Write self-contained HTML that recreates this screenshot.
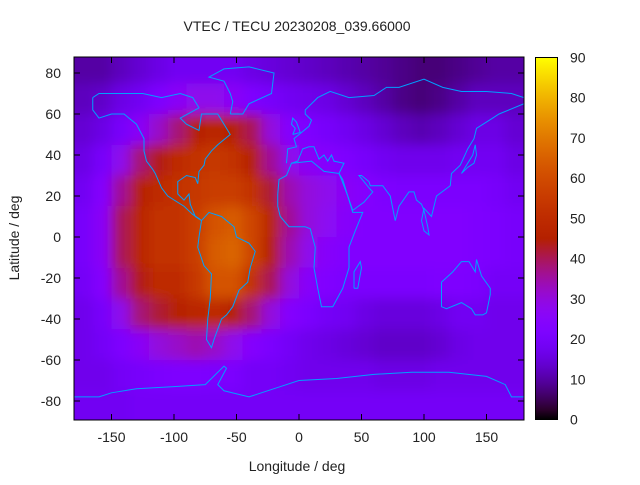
<!DOCTYPE html>
<html><head><meta charset="utf-8"><style>
body{margin:0;background:#fff;}
svg text{font-family:"Liberation Sans",sans-serif;font-size:14px;fill:#222;}
</style></head><body>
<svg id="chart" width="640" height="480" xmlns="http://www.w3.org/2000/svg">
<defs>
<clipPath id="pc"><rect x="74" y="57" width="450" height="363"/></clipPath>
<filter id="bl" filterUnits="userSpaceOnUse" x="0" y="0" width="640" height="480"><feGaussianBlur stdDeviation="6"/></filter>
<linearGradient id="cbg" x1="0" y1="1" x2="0" y2="0"></linearGradient>
</defs>
<text x="297" y="31" text-anchor="middle">VTEC / TECU 20230208_039.66000</text>
<g clip-path="url(#pc)"><g id="cells" filter="url(#bl)"></g></g>
<g id="coast" clip-path="url(#pc)"></g>
<rect x="74" y="57" width="450" height="363" fill="none" stroke="#000" stroke-width="1"/>
<g id="axes"></g>
<rect x="535.5" y="57.5" width="22" height="362" fill="url(#cbg)" stroke="#000"/>
<text x="297" y="471" text-anchor="middle">Longitude / deg</text>
<text transform="translate(19,238) rotate(-90)" text-anchor="middle">Latitude / deg</text>
</svg>
<script>
const lons=[-172.5,-157.5,-142.5,-127.5,-112.5,-97.5,-82.5,-67.5,-52.5,-37.5,-22.5,-7.5,7.5,22.5,37.5,52.5,67.5,82.5,97.5,112.5,127.5,142.5,157.5,172.5];
const lats=[82.5,67.5,52.5,37.5,22.5,7.5,-7.5,-22.5,-37.5,-52.5,-67.5,-82.5];
const r0=[10,10,12,14,16,18,18,18,18,16,15,14,13,12,11,10,9,8,7,7,8,9,10,10];
const r1=[12,13,16,18,22,26,28,28,26,22,20,18,17,16,14,12,10,8,7,8,10,12,12,12];
const r2=[14,16,20,26,32,38,46,48,46,40,30,24,22,20,18,16,14,12,11,12,14,16,16,14];
const r3=[16,20,28,38,44,50,52,54,52,46,36,28,26,24,22,20,18,17,17,17,18,18,18,16];
const r4=[18,24,36,46,50,52,54,56,56,52,42,34,30,28,26,24,22,21,21,21,21,21,20,18];
const r5=[20,26,40,48,52,52,56,62,64,58,48,36,30,27,25,23,23,23,23,23,23,22,21,20];
const r6=[20,26,40,48,52,52,56,64,66,58,46,34,28,25,23,23,23,23,23,23,23,22,21,20];
const r7=[19,24,36,44,50,50,54,62,62,52,40,30,25,23,21,21,21,21,21,22,22,21,19,19];
const r8=[17,20,28,38,42,46,48,50,46,38,30,24,21,19,18,16,15,15,15,16,18,18,17,17];
const r9=[17,19,22,26,30,32,34,32,28,24,21,19,17,16,15,14,13,13,13,14,16,17,17,17];
const r10=[17,17,19,20,21,22,22,21,21,19,19,18,17,17,17,17,16,16,16,17,17,17,17,17];
const r11=[18,18,18,19,19,19,19,19,19,19,19,19,19,19,19,19,19,19,19,19,19,19,19,19];
const rows=[r0,r1,r2,r3,r4,r5,r6,r7,r8,r9,r10,r11];
const xTicks=[-150,-100,-50,0,50,100,150];
const yTicks=[80,60,40,20,0,-20,-40,-60,-80];
const cTicks=[0,10,20,30,40,50,60,70,80,90];
const coastlines=[
[[-165,68],[-160,70],[-140,70],[-125,70],[-110,68],[-95,70],[-85,68],[-80,63],[-95,58],[-90,55],[-80,52],[-78,60],[-65,60],[-60,55],[-55,50],[-65,45],[-70,42],[-75,38],[-76,35],[-80,32],[-81,26],[-83,29],[-90,30],[-97,27],[-97,21],[-92,18],[-88,21],[-87,16],[-83,10],[-78,8],[-80,9],[-85,11],[-92,15],[-105,20],[-110,24],[-115,31],[-117,33],[-122,37],[-124,42],[-124,48],[-130,55],[-140,60],[-150,60],[-160,58],[-165,62],[-165,68]],
[[-78,8],[-72,12],[-62,10],[-52,5],[-50,0],[-40,-3],[-35,-7],[-39,-15],[-41,-22],[-48,-26],[-53,-34],[-58,-38],[-62,-40],[-65,-45],[-68,-50],[-70,-54],[-74,-50],[-73,-40],[-71,-30],[-70,-18],[-76,-14],[-81,-5],[-80,0],[-78,8]],
[[-17,21],[-16,28],[-10,30],[-6,36],[10,37],[20,32],[32,31],[35,28],[43,12],[51,12],[45,3],[40,-5],[40,-15],[35,-25],[27,-34],[18,-34],[15,-25],[12,-15],[13,-5],[9,4],[5,5],[-8,5],[-15,10],[-17,15],[-17,21]],
[[-10,36],[-9,43],[-2,44],[-4,48],[2,51],[8,54],[10,57],[5,60],[5,62],[15,68],[25,71],[40,68],[60,69],[70,73],[80,73],[100,77],[115,73],[130,71],[150,71],[170,70],[180,68]],
[[180,65],[160,60],[155,58],[142,53],[140,48],[135,43],[129,35],[122,31],[121,25],[110,20],[106,10],[100,14],[98,8],[100,3],[104,1],[103,5],[100,13],[98,16],[94,18],[92,22],[88,22],[80,15],[77,8],[73,20],[67,25],[57,25],[56,27],[50,30],[48,30],[56,24],[59,22],[52,17],[43,13],[39,20],[34,28],[32,31],[36,36],[28,37],[26,40],[23,37],[20,40],[16,38],[12,44],[8,44],[3,43],[-1,37],[-6,36]],
[[114,-22],[114,-34],[118,-35],[130,-32],[138,-35],[141,-38],[147,-38],[150,-37],[153,-28],[153,-25],[146,-19],[142,-11],[141,-17],[136,-12],[130,-12],[123,-17],[114,-22]],
[[-180,-78],[-160,-78],[-150,-76],[-130,-74],[-100,-73],[-75,-72],[-60,-63],[-58,-64],[-65,-72],[-60,-75],[-40,-78],[-20,-74],[0,-70],[30,-69],[60,-67],[90,-66],[120,-66],[150,-68],[165,-72],[170,-78],[180,-78]],
[[-55,60],[-45,60],[-40,65],[-22,70],[-20,80],[-40,83],[-60,82],[-72,78],[-60,76],[-55,70],[-53,66],[-55,60]],
[[44,-25],[47,-25],[50,-15],[49,-12],[44,-17],[44,-25]],
[[130,31],[135,34],[140,36],[142,40],[141,45],[139,40],[133,34],[130,31]],
[[-5,50],[1,51],[-2,56],[-5,58],[-6,55],[-3,53],[-5,50]]
];
const NS="http://www.w3.org/2000/svg";
const X=lon=>74+(lon+180)*1.25;
const Y=lat=>237-lat*2.05;
function col(v){let t=Math.max(0,Math.min(1,v/90));let r=Math.sqrt(t),g=t*t*t,b=Math.max(0,Math.sin(2*Math.PI*t));return `rgb(${Math.round(r*255)},${Math.round(g*255)},${Math.round(b*255)})`;}
const cells=document.getElementById('cells');
rows.forEach((row,i)=>row.forEach((v,j)=>{
 const r=document.createElementNS(NS,'rect');
 let x0=X(lons[j]-7.5),x1=X(lons[j]+7.5),y0=Y(lats[i]+7.5),y1=Y(lats[i]-7.5);
 if(j===0)x0-=30; if(j===lons.length-1)x1+=30; if(i===0)y0-=30; if(i===lats.length-1)y1+=30;
 r.setAttribute('x',x0);r.setAttribute('y',y0);r.setAttribute('width',x1-x0+0.5);r.setAttribute('height',y1-y0+0.5);
 r.setAttribute('fill',col(v));
 
 
 cells.appendChild(r);
}));
const coast=document.getElementById('coast');
coastlines.forEach(pts=>{
 const p=document.createElementNS(NS,'polyline');
 p.setAttribute('points',pts.map(q=>X(q[0])+','+Y(q[1])).join(' '));
 p.setAttribute('fill','none');p.setAttribute('stroke','#00a0ff');p.setAttribute('stroke-width','1');
 
 
 coast.appendChild(p);
});
const axes=document.getElementById('axes');
function line(x1,y1,x2,y2,nm){const l=document.createElementNS(NS,'line');l.setAttribute('x1',x1);l.setAttribute('y1',y1);l.setAttribute('x2',x2);l.setAttribute('y2',y2);l.setAttribute('stroke','#000');
 
 
 axes.appendChild(l);}
function txt(x,y,s,anc,nm){const t=document.createElementNS(NS,'text');t.setAttribute('x',x);t.setAttribute('y',y);t.setAttribute('text-anchor',anc);t.textContent=s;
 
 
 axes.appendChild(t);}
xTicks.forEach(v=>{const x=X(v);line(x,420,x,414,'x-tick');line(x,57,x,63,'x-tick');txt(x,442,String(v),'middle','x-tick-label');});
yTicks.forEach(v=>{const y=Y(v);line(74,y,80,y,'y-tick');line(524,y,518,y,'y-tick');txt(61,y+5,String(v),'end','y-tick-label');});
const cb=document.getElementById('cbg');
for(let k=0;k<=40;k++){const s=document.createElementNS(NS,'stop');s.setAttribute('offset',k/40);s.setAttribute('stop-color',col(90*k/40));cb.appendChild(s);}
cTicks.forEach(v=>{const y=419.5-v/90*362;line(536,y,540,y,'colorbar-tick');line(557,y,553,y,'colorbar-tick');txt(570,y+5,String(v),'start','colorbar-tick-label');});
</script>
</body></html>
